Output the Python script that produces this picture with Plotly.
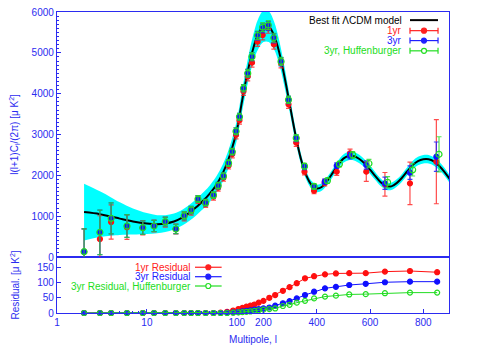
import numpy as np
import plotly.graph_objects as go

# best fit LCDM model and its cosmic-variance band
ell_model = [2, 3, 4, 5, 7, 10, 13, 16, 20, 25, 30, 35, 40, 45, 50, 60, 70, 80, 90,
             100, 120, 140, 160, 180, 200, 220, 240, 260, 280, 300, 320, 340, 360, 380,
             400, 420, 440, 460, 480, 500, 520, 540, 560, 580, 600, 620, 640, 660, 680,
             700, 720, 740, 760, 780, 800, 820, 840, 860, 880, 900]
model = [1100, 1050, 990, 940, 870, 820, 805, 820, 870, 970, 1090, 1210, 1330, 1440, 1550,
         1790, 2060, 2370, 2720,
         3100, 3830, 4510, 5070, 5460, 5650, 5640, 5420, 4990, 4380, 3690, 3000, 2420, 2010,
         1770, 1680, 1720, 1870, 2060, 2260, 2410, 2475, 2470, 2400, 2290, 2140, 1980, 1830,
         1740, 1730, 1810, 1940, 2100, 2250, 2350, 2395, 2395, 2340, 2230, 2080, 1900]
band_half = [695, 560, 470, 400, 320, 255, 220, 205, 195, 192, 195, 198, 200, 200, 200,
             205, 210, 220, 230,
             240, 260, 290, 330, 370, 385, 375, 340, 290, 240, 195, 160, 130, 106, 95,
             92, 92, 95, 98, 100, 102, 104, 104, 102, 100, 98, 95, 92, 90, 90,
             92, 95, 98, 101, 103, 104, 104, 103, 100, 97, 94]

# binned power spectrum
ell = [2, 3, 4, 6, 9, 12, 16, 21, 26, 31, 37, 45, 55, 62, 71, 81, 89, 98, 110, 125, 141,
       157, 178, 197, 218, 239, 266, 294, 323, 354, 390, 430, 475, 525, 586, 656, 750, 849]
cl_1yr = [130, 440, 857, 730, 718, 760, 850, 686, 990, 1120, 1400, 1300, 1480, 1700, 1940,
          2240, 2520, 2990, 3350, 4060, 4420, 4760, 5274, 5437, 5600, 5209, 4743, 3740,
          2800, 2090, 1624, 1820, 2090, 2540, 2090, 1780, 1804, 2334]
err_1yr = [560, 570, 420, 300, 175, 145, 120, 120, 105, 95, 90, 85, 85, 85, 85, 85, 90, 95,
           95, 100, 105, 110, 115, 120, 120, 120, 110, 100, 90, 80, 75, 80, 90, 100, 240,
           290, 520, 1030]
cl_3yr = [130, 605, 947, 760, 718, 760, 866, 686, 1012, 1151, 1420, 1330, 1518, 1747, 1984,
          2300, 2579, 3080, 3436, 4131, 4499, 4906, 5413, 5601, 5657, 5356, 4783, 3845,
          2907, 2212, 1722, 1845, 2237, 2482, 2253, 1804, 2065, 2457]
err_3yr = [560, 545, 380, 280, 165, 135, 110, 115, 100, 90, 85, 80, 80, 80, 80, 80, 80, 85,
           85, 90, 95, 100, 105, 110, 110, 110, 100, 90, 80, 70, 60, 65, 70, 80, 100, 150,
           165, 360]
cl_huff = [130, 605, 947, 760, 718, 760, 866, 686, 1012, 1151, 1420, 1330, 1518, 1747, 1984,
           2300, 2579, 3080, 3436, 4131, 4499, 4906, 5430, 5630, 5680, 5370, 4790, 3850,
           2915, 2225, 1730, 1870, 2275, 2500, 2290, 1830, 2134, 2515]
err_huff = [560, 545, 380, 280, 165, 135, 110, 115, 100, 90, 85, 80, 80, 80, 80, 80, 80, 85,
            85, 90, 95, 100, 105, 110, 110, 110, 100, 90, 80, 70, 60, 65, 70, 80, 100, 140,
            150, 430]

# residuals
ell_res = [2, 3, 4, 6, 9, 12, 16, 21, 26, 31, 37, 45, 55, 66, 78, 91, 106, 121, 136, 151,
           166, 182, 200, 222, 244, 273, 298, 325, 356, 390, 431, 472, 522, 584, 656, 750, 852]
res_1yr = [0, 0, 0, 0, 0, 0, 0, 0, 0, 0, 0, 0, 0, 1, 4, 8, 13, 17, 21, 24, 28, 34, 40,
           50, 59, 73, 85, 98, 114, 121, 127, 130, 131, 131, 136, 138, 134]
res_3yr = [0, 0, 0, 0, 0, 0, 0, 0, 0, 0, 0, 0, 0, 0, 1, 2, 3, 5, 7, 9, 11, 13, 15,
           18, 24, 32, 39, 48, 59, 70, 81, 86, 92, 96, 101, 103, 103]
res_huff = [0, 0, 0, 0, 0, 0, 0, 0, 0, 0, 0, 0, 0, 0, 0, 1, 2, 3, 4, 5, 7, 9, 11,
            13, 15, 23, 27, 34, 40, 48, 54, 57, 61, 62, 65, 67, 67]

tick_l = [1, 10, 100, 200, 400, 600, 800]
tick_text = ["1", "10", "100", "200", "400", "600", "800"]

BLUE = "#2b2bf0"
FONT = "Liberation Sans"


def lpos(l):
    # multipole axis: logarithmic up to l=100, linear above
    l = np.asarray(l, dtype=float)
    return np.where(l <= 100, np.log10(l), 2 + (l - 100) / 337.5)


xm = lpos(ell_model)
m = np.array(model, float)
h = np.array(band_half, float)
x_data = lpos(ell)
x_huff = lpos([l + 10 if l > 400 else l for l in ell])

fig = go.Figure()

fig.add_trace(go.Scatter(x=xm, y=m + h, mode="lines", line=dict(width=0, shape="spline"),
                         xaxis="x2", yaxis="y2", showlegend=False, hoverinfo="skip"))
fig.add_trace(go.Scatter(x=xm, y=m - h, mode="lines", line=dict(width=0, shape="spline"),
                         fill="tonexty", fillcolor="#00ffff",
                         xaxis="x2", yaxis="y2", showlegend=False, hoverinfo="skip"))
fig.add_trace(go.Scatter(x=xm, y=m, mode="lines", line=dict(color="black", width=2, shape="spline"),
                         xaxis="x2", yaxis="y2", showlegend=False))


def data_trace(x, y, err, color, symbol, size, ecolor):
    return go.Scatter(
        x=x, y=y, mode="markers",
        marker=dict(color=color, symbol=symbol, size=size, line=dict(color=color, width=1.2)),
        error_y=dict(type="data", array=err, color=ecolor, thickness=1.2, width=2.5),
        xaxis="x2", yaxis="y2", showlegend=False)


fig.add_trace(data_trace(x_data, cl_1yr, err_1yr, "#ff1010", "circle", 5, "rgba(255,30,30,0.8)"))
fig.add_trace(data_trace(x_data, cl_3yr, err_3yr, "#1010ff", "circle", 5, "rgba(30,30,255,0.85)"))
fig.add_trace(data_trace(x_huff, cl_huff, err_huff, "#22dd22", "circle-open", 6, "rgba(40,220,40,0.8)"))

xr = lpos(ell_res)
for y, color, symbol in [(res_1yr, "#ff1010", "circle"), (res_3yr, "#1010ff", "circle"),
                         (res_huff, "#22dd22", "circle-open")]:
    fig.add_trace(go.Scatter(x=xr, y=y, mode="lines+markers",
                             line=dict(color=color, width=1),
                             marker=dict(color=color, symbol=symbol, size=5,
                                         line=dict(color=color, width=1.2)),
                             cliponaxis=False, showlegend=False))


# gnuplot-style keys: text right-aligned, sample to its right
def key(text, color, y, x_text, x0, x1, kind):
    fig.add_annotation(xref="paper", yref="paper", x=x_text, y=y, text=text, showarrow=False,
                       xanchor="right", yanchor="middle", borderpad=0,
                       font=dict(color=color, size=10, family=FONT))
    fig.add_shape(type="line", xref="paper", yref="paper", x0=x0, x1=x1, y0=y, y1=y,
                  line=dict(color=color, width=2 if kind == "line" else 1.2))
    if kind in ("err", "err-open"):
        for xe in (x0, x1):
            fig.add_shape(type="line", xref="paper", yref="paper", xsizemode="scaled",
                          ysizemode="pixel", yanchor=y, x0=xe, x1=xe, y0=-3, y1=3,
                          line=dict(color=color, width=1.2))
    if kind != "line":
        xc = (x0 + x1) / 2
        fig.add_shape(type="circle", xref="paper", yref="paper", xsizemode="pixel",
                      ysizemode="pixel", xanchor=xc, yanchor=y, x0=-2.5, x1=2.5, y0=-2.5, y1=2.5,
                      line=dict(color=color, width=1.2),
                      fillcolor="white" if kind.endswith("open") else color)


key("Best fit \u039bCDM model", "black", 0.973, 0.883, 0.9005, 0.972, "line")
key("1yr", "#ff2020", 0.938, 0.883, 0.9005, 0.972, "err")
key("3yr", "#2020ff", 0.905, 0.883, 0.9005, 0.972, "err")
key("3yr, Huffenburger", "#22dd22", 0.871, 0.883, 0.9005, 0.972, "err-open")
key("1yr Residual", "#ff2020", 0.152, 0.3436, 0.352, 0.420, "res")
key("3yr Residual", "#2020ff", 0.1206, 0.3436, 0.352, 0.420, "res")
key("3yr Residual, Huffenburger", "#22dd22", 0.0897, 0.3436, 0.352, 0.420, "res-open")

axis_common = dict(showgrid=False, zeroline=False, showline=True, mirror=True,
                   linecolor=BLUE, linewidth=1.3, tickcolor=BLUE, automargin=False,
                   ticklabeloverflow="allow",
                   tickfont=dict(color=BLUE, size=10, family=FONT))

minor_l = [2, 3, 4, 5, 6, 7, 8, 9, 20, 30, 40, 50, 60, 70, 80, 90]

# the page body adds an 8px offset, so the figure is 8px smaller than the window
fig.update_layout(
    width=492, height=342,
    margin=dict(l=49, r=51, t=4, b=37),
    paper_bgcolor="white", plot_bgcolor="white",
    font=dict(family=FONT, size=10, color=BLUE),
    xaxis=dict(axis_common, domain=[0, 1], range=[0, 4.36], anchor="y",
               tickvals=lpos(tick_l), ticktext=tick_text, ticks="inside", ticklen=4,
               minor=dict(tickvals=lpos(minor_l), ticks="inside", ticklen=2, tickcolor=BLUE),
               title=dict(text="Multipole, l", font=dict(color=BLUE, size=10), standoff=8)),
    yaxis=dict(axis_common, domain=[0, 0.186], range=[0, 184], tickvals=[0, 50, 100, 150],
               ticks="inside", ticklen=4,
               title=dict(text="Residual. [\u03bc K<sup>2</sup>]", font=dict(color=BLUE, size=10))),
    xaxis2=dict(axis_common, domain=[0, 1], matches="x", anchor="y2", showticklabels=False,
                ticks=""),
    yaxis2=dict(axis_common, domain=[0.186, 1], range=[0, 6000], tickvals=[0, 1000, 2000, 3000, 4000, 5000, 6000],
                ticks="inside", ticklen=4,
                minor=dict(dtick=100, ticks="inside", ticklen=2, tickcolor=BLUE),
                title=dict(text="l(l+1)C<sub>l</sub>/(2\u03c0) [\u03bc K<sup>2</sup>]",
                           font=dict(color=BLUE, size=10))),
)

fig.write_html("out.html")
